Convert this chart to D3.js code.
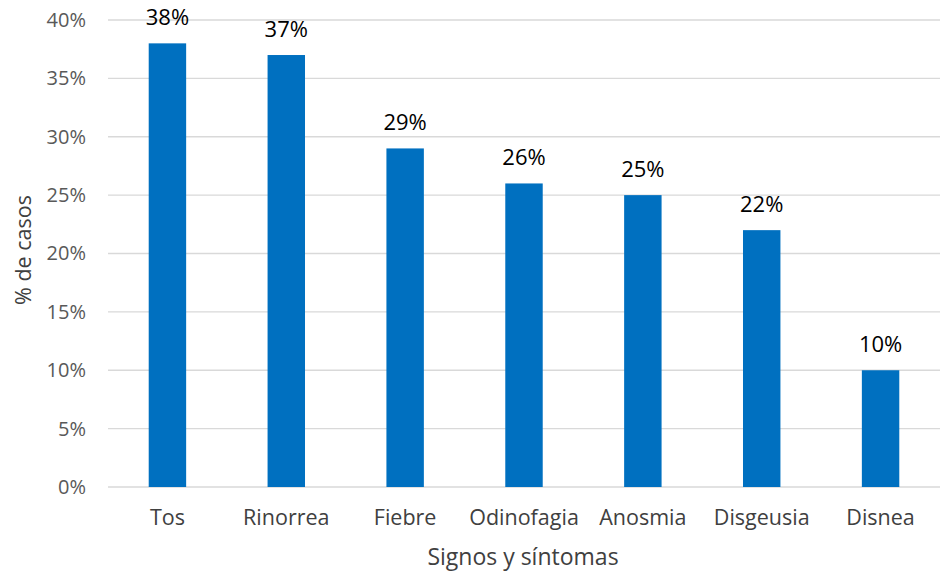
<!DOCTYPE html>
<html>
<head>
<meta charset="utf-8">
<script src="https://cdn.jsdelivr.net/npm/d3@7/dist/d3.min.js"></script>
<style>
body{margin:0;background:#fff;}
svg{display:block;font-family:"Open Sans",sans-serif;}
</style>
</head>
<body>
<svg id="chart" width="949" height="571"></svg>
<script>
const categories = ["Tos","Rinorrea","Fiebre","Odinofagia","Anosmia","Disgeusia","Disnea"];
const values = [38,37,29,26,25,22,10];
const yTicks = [0,5,10,15,20,25,30,35,40];

(function(){
const svg = d3.select("#chart");
const mLeft = 108, mRight = 940, mTop = 20, mBottom = 487;
const FONT = "'Open Sans',sans-serif";

const x = d3.scaleBand().domain(categories).range([mLeft,mRight]).paddingInner(0.685).paddingOuter(0.3425);
const y = d3.scaleLinear().domain([0,40]).range([mBottom,mTop]);

// gridlines
svg.append("g").selectAll("line").data(yTicks).join("line")
  .attr("x1",mLeft).attr("x2",mRight)
  .attr("y1",d=>y(d)).attr("y2",d=>y(d))
  .attr("stroke","#d9d9d9").attr("stroke-width",1.3);

// y axis labels
const yAxis = svg.append("g").attr("transform",`translate(${mLeft},0)`)
  .call(d3.axisLeft(y).tickValues(yTicks).tickFormat(d=>d+"%").tickSize(0).tickPadding(22));
yAxis.select(".domain").remove();
yAxis.selectAll("text").attr("font-size",20).attr("fill","#595959").attr("font-family",FONT);

// x axis labels
const xAxis = svg.append("g").attr("transform",`translate(0,${mBottom})`)
  .call(d3.axisBottom(x).tickSize(0).tickPadding(0));
xAxis.select(".domain").remove();
xAxis.selectAll("text").attr("font-size",21.5).attr("fill","#404040").attr("font-family",FONT)
  .attr("dy",null).attr("y",38);

// bars
svg.append("g").selectAll("rect").data(categories).join("rect")
  .attr("x",d=>x(d)).attr("width",x.bandwidth())
  .attr("y",(d,i)=>y(values[i])).attr("height",(d,i)=>mBottom-y(values[i]))
  .attr("fill","#0070c0");

// data labels
svg.append("g").selectAll("text").data(categories).join("text")
  .attr("x",d=>x(d)+x.bandwidth()/2)
  .attr("y",(d,i)=>y(values[i])-18)
  .attr("text-anchor","middle").attr("font-size",22).attr("fill","#000")
  .attr("font-family",FONT)
  .text((d,i)=>values[i]+"%");

// axis titles
svg.append("text").attr("x",523).attr("y",565).attr("text-anchor","middle")
  .attr("font-size",23).attr("fill","#404040").attr("font-family",FONT).text("Signos y síntomas");
svg.append("text").attr("transform","translate(31,250) rotate(-90)").attr("text-anchor","middle")
  .attr("font-size",21.5).attr("fill","#404040").attr("font-family",FONT).text("% de casos");
})();
</script>
</body>
</html>
